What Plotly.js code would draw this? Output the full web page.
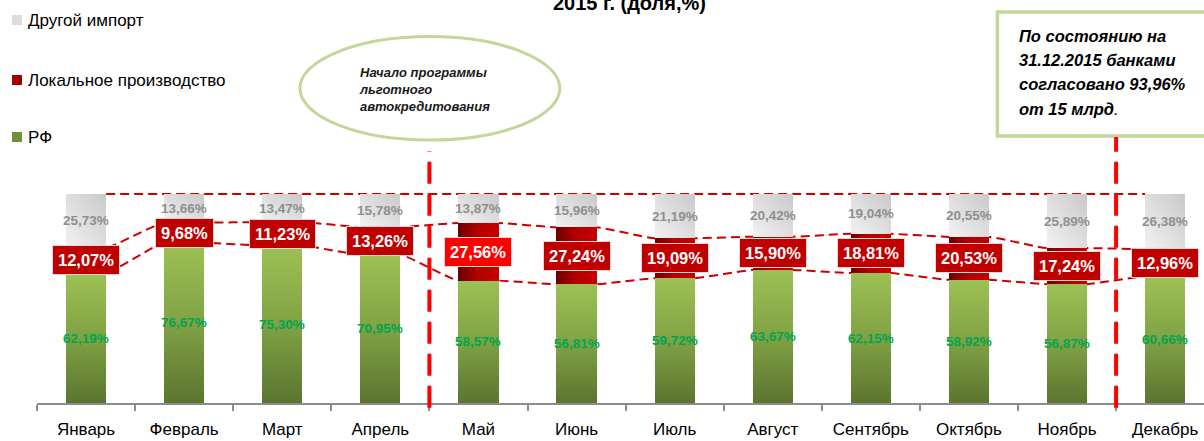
<!DOCTYPE html>
<html>
<head>
<meta charset="utf-8">
<script src="https://cdn.plot.ly/plotly-3.0.1.min.js"></script>
<style>
html,body{margin:0;padding:0;background:#fff;}
#chart{width:1204px;height:441px;}
</style>
</head>
<body>
<div id="chart"></div>
<script>
var months = ['Январь','Февраль','Март','Апрель','Май','Июнь','Июль','Август','Сентябрь','Октябрь','Ноябрь','Декабрь'];
var rfShare = [62.19,76.67,75.30,70.95,58.57,56.81,59.72,63.67,62.15,58.92,56.87,60.66];
var localShare = [12.07,9.68,11.23,13.26,27.56,27.24,19.09,15.90,18.81,20.53,17.24,12.96];
var otherShare = [25.73,13.66,13.47,15.78,13.87,15.96,21.19,20.42,19.04,20.55,25.89,26.38];
var seriesNames = ['РФ','Локальное производство','Другой импорт'];
var seriesColors = ['#77933c','#a50000','#d9d9d9'];
var highlightMonth = 'Май';
var titleText = '2015 г. (доля,%)';
var noteEllipse = 'Начало программы<br>льготного<br>автокредитования';
var noteBoxLines = ['<b><i>По состоянию на</i></b>','<b><i>31.12.2015 банками</i></b>','<b><i>согласовано 93,96%</i></b>','<b><i>от 15 млрд</i></b><i>.</i>'];

function fmt(v){ return v.toFixed(2).replace('.', ',') + '%'; }

var idx = months.map(function(m,i){return i;});
var BW = 0.41, HW = BW/2;
var XR = [-0.5, 11.396], YR = [0, 192.82];
var FONT = 'Liberation Sans, Arial, sans-serif';
var PLOT_W = 1167, PLOT_H = 403, ML = 37;
function px2paperX(px){ return (px - ML)/PLOT_W; }
function px2paperY(py){ return 1 - py/PLOT_H; }

var series = [rfShare, localShare, otherShare];
var data = series.map(function(vals, k){
  return {type:'bar', name:seriesNames[k], x:idx, y:vals, width:BW, xaxis:'x2', yaxis:'y2',
    marker:{color:seriesColors[k]}, hoverinfo:'skip', showlegend:false};
});

// dashed connector lines (drawn below bars)
function edgeLine(vals){
  var xs=[], ys=[];
  vals.forEach(function(v,i){ xs.push(i-HW, i+HW); ys.push(v, v); });
  return {xs:xs, ys:ys};
}
var lower = edgeLine(rfShare);
var upper = edgeLine(rfShare.map(function(v,i){return v+localShare[i];}));
var lineStyle = {color:'#cc0000', width:2, dash:'9px,5px', shape:'spline', smoothing:0.6};
data.push({type:'scatter', mode:'lines', x:lower.xs, y:lower.ys, line:lineStyle, showlegend:false, hoverinfo:'skip'});
data.push({type:'scatter', mode:'lines', x:upper.xs, y:upper.ys, line:lineStyle, showlegend:false, hoverinfo:'skip'});
var totals = idx.map(function(i){return rfShare[i]+localShare[i]+otherShare[i];});
data.push({type:'scatter', mode:'lines', x:[HW, idx.length-1-HW], y:[Math.round(totals[0]), Math.round(totals[totals.length-1])],
  line:{color:'#cc0000', width:2, dash:'9px,5px'}, showlegend:false, hoverinfo:'skip'});

var annotations = [];
idx.forEach(function(i){
  annotations.push({xref:'x', yref:'y', x:i, y:rfShare[i]/2, text:'<b>'+fmt(rfShare[i])+'</b>', showarrow:false,
    font:{family:FONT, size:13.5, color:'#00a550'}});
  annotations.push({xref:'x', yref:'y', x:i, y:rfShare[i]+localShare[i]+otherShare[i]/2, text:'<b>'+fmt(otherShare[i])+'</b>', showarrow:false,
    font:{family:FONT, size:13.5, color:'#8f8f8f'}});
  annotations.push({xref:'x', yref:'y', x:i, y:rfShare[i]+localShare[i]/2, text:'<b>'+fmt(localShare[i])+'</b>', showarrow:false,
    font:{family:FONT, size:16.5, color:'#ffffff'},
    bgcolor: months[i]===highlightMonth ? '#ff0000' : '#c00000', bordercolor:'#f2d4d4', borderwidth:1, borderpad:5});
});
annotations.push({xref:'x', yref:'y', x:5.535, y:191.6, text:'<b>'+titleText+'</b>', showarrow:false,
  font:{family:FONT, size:20, color:'#000'}});
annotations.push({xref:'x', yref:'y', x:2.76, y:149.8, xanchor:'left', align:'left', text:'<b><i>'+noteEllipse+'</i></b>', showarrow:false,
  font:{family:FONT, size:13, color:'#1a1a1a'}});
noteBoxLines.forEach(function(t,k){
  annotations.push({xref:'x', yref:'y', x:9.49, y:175.6-k*11.6, xanchor:'left', align:'left', text:t, showarrow:false,
    font:{family:FONT, size:16.5, color:'#000'}});
});

var shapes = [
  {type:'circle', xref:'x', yref:'y', x0:2.18, x1:4.83, y0:125.8, y1:175.3, line:{color:'#c3d69b', width:3}, fillcolor:'rgba(255,255,255,0)', layer:'above'},
  {type:'rect', xref:'x', yref:'y', x0:9.29, x1:11.6, y0:127.8, y1:187.1, line:{color:'#c3d69b', width:3.5}, fillcolor:'#ffffff', layer:'below'},
  {type:'line', xref:'x', yref:'paper', x0:3.5, x1:3.5, y0:-0.012, y1:0.625, line:{color:'#ff0000', width:4, dash:'22px,10px'}, layer:'above'},
  {type:'line', xref:'x', yref:'paper', x0:10.5, x1:10.5, y0:-0.012, y1:0.66, line:{color:'#ff0000', width:4, dash:'22px,10px'}, layer:'above'}
];

// manual legend (top-left), order: other, local, RF
var legendOrder = [2, 1, 0];
var legendY = [20, 80, 137];
var legendSwatch = ['#dcdcdc', '#a00000', '#6f8f3a'];
legendOrder.forEach(function(k, j){
  annotations.push({xref:'paper', yref:'paper', x:px2paperX(26), y:px2paperY(legendY[j]), xanchor:'left', yanchor:'middle',
    text:seriesNames[k], showarrow:false, font:{family:FONT, size:17, color:'#000'}});
  shapes.push({type:'rect', xref:'paper', yref:'paper', x0:px2paperX(12), x1:px2paperX(22),
    y0:px2paperY(legendY[j]+5), y1:px2paperY(legendY[j]-5), line:{width:0}, fillcolor:legendSwatch[j], layer:'above'});
});

var layout = {
  width:1204, height:441,
  margin:{l:ML, r:0, t:0, b:38, pad:0, autoexpand:false},
  paper_bgcolor:'#ffffff', plot_bgcolor:'rgba(0,0,0,0)',
  barmode:'stack',
  font:{family:FONT, size:17, color:'#000'},
  showlegend:false,
  xaxis:{range:XR, showgrid:false, zeroline:false, showline:true, linecolor:'#8c8c8c', linewidth:2,
    tickmode:'array', tickvals:idx, ticktext:months, ticks:'', ticklabelstandoff:10,
    tickfont:{family:FONT, size:17, color:'#000'},
    minor:{tickmode:'linear', tick0:0.5, dtick:1, ticks:'outside', ticklen:6, tickwidth:2, tickcolor:'#8c8c8c', showgrid:false},
    fixedrange:true},
  yaxis:{range:YR, visible:false, showgrid:false, zeroline:false, fixedrange:true},
  xaxis2:{overlaying:'x', range:XR, visible:false, fixedrange:true},
  yaxis2:{overlaying:'y', range:YR, visible:false, fixedrange:true},
  annotations:annotations,
  shapes:shapes
};

var gd = document.getElementById('chart');
Plotly.newPlot(gd, data, layout, {displayModeBar:false, responsive:false}).then(function(){
  var ns = 'http://www.w3.org/2000/svg';
  var svg = gd.querySelector('.main-svg');
  var defs = svg.querySelector('defs');
  function grad(id, x1, y1, x2, y2, stops){
    var g = document.createElementNS(ns, 'linearGradient');
    g.setAttribute('id', id);
    g.setAttribute('x1', x1); g.setAttribute('y1', y1); g.setAttribute('x2', x2); g.setAttribute('y2', y2);
    stops.forEach(function(s){
      var st = document.createElementNS(ns, 'stop');
      st.setAttribute('offset', s[0]); st.setAttribute('stop-color', s[1]);
      g.appendChild(st);
    });
    defs.appendChild(g);
  }
  grad('gGreen', 0, 0, 0, 1, [[0, '#9dc155'], [0.5, '#80a244'], [1, '#5b7530']]);
  grad('gRed', 0, 0, 1, 0, [[0, '#6a0000'], [0.45, '#b00000'], [1, '#c80000']]);
  grad('gGrey', 0, 1, 1, 0, [[0, '#f2f2f2'], [1, '#c9c9c9']]);
  var ids = ['gGreen', 'gRed', 'gGrey'];
  var traces = gd.querySelectorAll('.barlayer .trace');
  traces.forEach(function(t, k){
    t.querySelectorAll('path').forEach(function(p){ p.style.fill = 'url(#' + ids[k] + ')'; });
  });
});
</script>
</body>
</html>
